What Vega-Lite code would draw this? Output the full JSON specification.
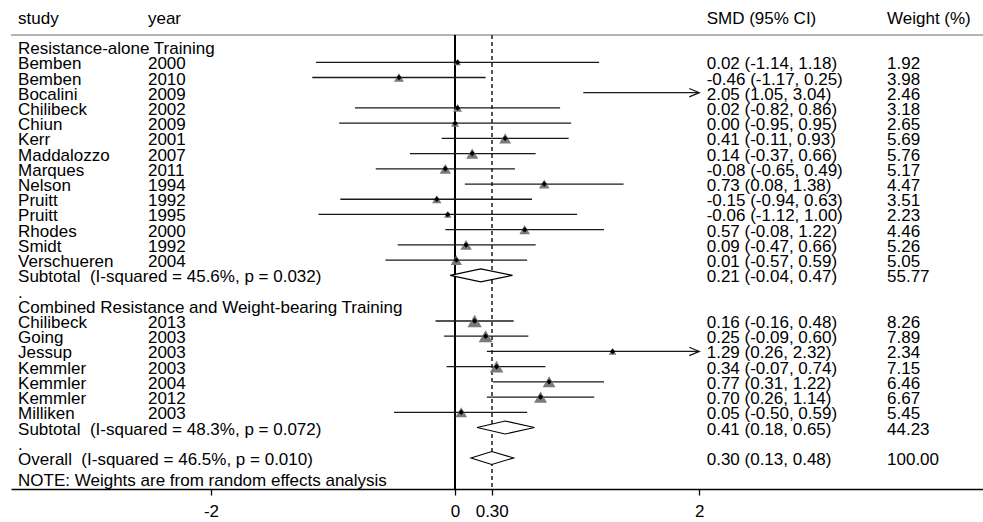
{
  "$schema": "https://vega.github.io/schema/vega-lite/v6.json",
  "width": 973,
  "height": 489,
  "padding": {"left": 10, "top": 0, "right": 0, "bottom": 0},
  "background": "white",
  "config": {
    "view": {"stroke": null},
    "font": "Liberation Sans",
    "text": {"font": "Liberation Sans", "fontSize": 17, "color": "black"},
    "axisX": {
      "grid": false, "domainColor": "black", "domainWidth": 1.4, "tickColor": "black", "tickWidth": 1.3, "tickSize": 6,
      "labelFont": "Liberation Sans", "labelFontSize": 17, "labelColor": "black", "labelPadding": 8
    }
  },
  "data": {
    "values": [
      {"row": 0, "study": "study", "year": "year", "ci": "SMD (95% CI)", "wt": "Weight (%)", "type": "header"},
      {"row": 2, "study": "Resistance-alone Training", "type": "group"},
      {"row": 3, "study": "Bemben", "year": "2000", "ci": "0.02 (-1.14, 1.18)", "wt": "1.92", "est": 0.02, "lo": -1.14, "hi": 1.18, "w": 1.92, "type": "study"},
      {"row": 4, "study": "Bemben", "year": "2010", "ci": "-0.46 (-1.17, 0.25)", "wt": "3.98", "est": -0.46, "lo": -1.17, "hi": 0.25, "w": 3.98, "type": "study"},
      {"row": 5, "study": "Bocalini", "year": "2009", "ci": "2.05 (1.05, 3.04)", "wt": "2.46", "est": 2.05, "lo": 1.05, "hi": 3.04, "w": 2.46, "type": "study"},
      {"row": 6, "study": "Chilibeck", "year": "2002", "ci": "0.02 (-0.82, 0.86)", "wt": "3.18", "est": 0.02, "lo": -0.82, "hi": 0.86, "w": 3.18, "type": "study"},
      {"row": 7, "study": "Chiun", "year": "2009", "ci": "0.00 (-0.95, 0.95)", "wt": "2.65", "est": 0.0, "lo": -0.95, "hi": 0.95, "w": 2.65, "type": "study"},
      {"row": 8, "study": "Kerr", "year": "2001", "ci": "0.41 (-0.11, 0.93)", "wt": "5.69", "est": 0.41, "lo": -0.11, "hi": 0.93, "w": 5.69, "type": "study"},
      {"row": 9, "study": "Maddalozzo", "year": "2007", "ci": "0.14 (-0.37, 0.66)", "wt": "5.76", "est": 0.14, "lo": -0.37, "hi": 0.66, "w": 5.76, "type": "study"},
      {"row": 10, "study": "Marques", "year": "2011", "ci": "-0.08 (-0.65, 0.49)", "wt": "5.17", "est": -0.08, "lo": -0.65, "hi": 0.49, "w": 5.17, "type": "study"},
      {"row": 11, "study": "Nelson", "year": "1994", "ci": "0.73 (0.08, 1.38)", "wt": "4.47", "est": 0.73, "lo": 0.08, "hi": 1.38, "w": 4.47, "type": "study"},
      {"row": 12, "study": "Pruitt", "year": "1992", "ci": "-0.15 (-0.94, 0.63)", "wt": "3.51", "est": -0.15, "lo": -0.94, "hi": 0.63, "w": 3.51, "type": "study"},
      {"row": 13, "study": "Pruitt", "year": "1995", "ci": "-0.06 (-1.12, 1.00)", "wt": "2.23", "est": -0.06, "lo": -1.12, "hi": 1.0, "w": 2.23, "type": "study"},
      {"row": 14, "study": "Rhodes", "year": "2000", "ci": "0.57 (-0.08, 1.22)", "wt": "4.46", "est": 0.57, "lo": -0.08, "hi": 1.22, "w": 4.46, "type": "study"},
      {"row": 15, "study": "Smidt", "year": "1992", "ci": "0.09 (-0.47, 0.66)", "wt": "5.26", "est": 0.09, "lo": -0.47, "hi": 0.66, "w": 5.26, "type": "study"},
      {"row": 16, "study": "Verschueren", "year": "2004", "ci": "0.01 (-0.57, 0.59)", "wt": "5.05", "est": 0.01, "lo": -0.57, "hi": 0.59, "w": 5.05, "type": "study"},
      {"row": 17, "study": "Subtotal\u00a0 (I-squared = 45.6%, p = 0.032)", "ci": "0.21 (-0.04, 0.47)", "wt": "55.77", "est": 0.21, "lo": -0.04, "hi": 0.47, "type": "pooled", "label": "sub1"},
      {"row": 18, "study": ".", "type": "blank"},
      {"row": 19, "study": "Combined Resistance and Weight-bearing Training", "type": "group"},
      {"row": 20, "study": "Chilibeck", "year": "2013", "ci": "0.16 (-0.16, 0.48)", "wt": "8.26", "est": 0.16, "lo": -0.16, "hi": 0.48, "w": 8.26, "type": "study"},
      {"row": 21, "study": "Going", "year": "2003", "ci": "0.25 (-0.09, 0.60)", "wt": "7.89", "est": 0.25, "lo": -0.09, "hi": 0.6, "w": 7.89, "type": "study"},
      {"row": 22, "study": "Jessup", "year": "2003", "ci": "1.29 (0.26, 2.32)", "wt": "2.34", "est": 1.29, "lo": 0.26, "hi": 2.32, "w": 2.34, "type": "study"},
      {"row": 23, "study": "Kemmler", "year": "2003", "ci": "0.34 (-0.07, 0.74)", "wt": "7.15", "est": 0.34, "lo": -0.07, "hi": 0.74, "w": 7.15, "type": "study"},
      {"row": 24, "study": "Kemmler", "year": "2004", "ci": "0.77 (0.31, 1.22)", "wt": "6.46", "est": 0.77, "lo": 0.31, "hi": 1.22, "w": 6.46, "type": "study"},
      {"row": 25, "study": "Kemmler", "year": "2012", "ci": "0.70 (0.26, 1.14)", "wt": "6.67", "est": 0.7, "lo": 0.26, "hi": 1.14, "w": 6.67, "type": "study"},
      {"row": 26, "study": "Milliken", "year": "2003", "ci": "0.05 (-0.50, 0.59)", "wt": "5.45", "est": 0.05, "lo": -0.5, "hi": 0.59, "w": 5.45, "type": "study"},
      {"row": 27, "study": "Subtotal\u00a0 (I-squared = 48.3%, p = 0.072)", "ci": "0.41 (0.18, 0.65)", "wt": "44.23", "est": 0.41, "lo": 0.18, "hi": 0.65, "type": "pooled", "label": "sub2"},
      {"row": 28, "study": ".", "type": "blank"},
      {"row": 29, "study": "Overall\u00a0 (I-squared = 46.5%, p = 0.010)", "ci": "0.30 (0.13, 0.48)", "wt": "100.00", "est": 0.3, "lo": 0.13, "hi": 0.48, "type": "pooled", "label": "overall"},
      {"row": 30.4, "study": "NOTE: Weights are from random effects analysis", "type": "note"}
    ]
  },
  "layer": [
    {
      "mark": {"type": "rule", "color": "#b5b5b5", "strokeWidth": 1.5},
      "encoding": {
        "y": {"datum": 1.2, "type": "quantitative", "scale": {"domain": [-1.093, 31.04], "reverse": true, "nice": false, "zero": false}, "axis": null}
      }
    },
    {
      "mark": {"type": "rule", "color": "black", "strokeWidth": 1.3},
      "encoding": {
        "x": {"datum": 0, "type": "quantitative", "scale": {"domain": [-3.6378, 4.3324], "nice": false, "zero": false},
              "axis": {"title": null, "values": [-2, 0, 0.3, 2], "labelExpr": "datum.value === 0.3 ? '0.30' : '' + datum.value"}},
        "y": {"datum": 1.2, "type": "quantitative", "axis": null},
        "y2": {"datum": 31.04}
      }
    },
    {
      "mark": {"type": "rule", "color": "#555555", "strokeWidth": 1.2, "strokeDash": [4, 3]},
      "encoding": {
        "x": {"datum": 0.3, "type": "quantitative", "axis": {"title": null, "values": [-2, 0, 0.3, 2], "labelExpr": "datum.value === 0.3 ? '0.30' : '' + datum.value"}},
        "y": {"datum": 1.2, "type": "quantitative", "axis": null},
        "y2": {"datum": 31.04}
      }
    },
    {
      "transform": [{"filter": "datum.type === 'study' && datum.hi <= 2"}],
      "mark": {"type": "rule", "color": "#1a1a1a", "strokeWidth": 1.3},
      "encoding": {
        "x": {"field": "lo", "type": "quantitative", "axis": {"title": null, "values": [-2, 0, 0.3, 2], "labelExpr": "datum.value === 0.3 ? '0.30' : '' + datum.value"}},
        "x2": {"field": "hi"},
        "y": {"field": "row", "type": "quantitative", "axis": null}
      }
    },
    {
      "transform": [{"filter": "datum.type === 'study' && datum.hi > 2"}],
      "mark": {"type": "rule", "color": "#1a1a1a", "strokeWidth": 1.3},
      "encoding": {
        "x": {"field": "lo", "type": "quantitative", "axis": {"title": null, "values": [-2, 0, 0.3, 2], "labelExpr": "datum.value === 0.3 ? '0.30' : '' + datum.value"}},
        "x2": {"datum": 2},
        "y": {"field": "row", "type": "quantitative", "axis": null}
      }
    },
    {
      "transform": [{"filter": "datum.type === 'study' && datum.hi > 2"}],
      "mark": {"type": "point", "shape": "M-1,-0.42L0,0L-1,0.42", "filled": false, "color": "#1a1a1a", "strokeWidth": 1.3, "size": 400, "opacity": 1},
      "encoding": {
        "x": {"datum": 2, "type": "quantitative", "axis": {"title": null, "values": [-2, 0, 0.3, 2], "labelExpr": "datum.value === 0.3 ? '0.30' : '' + datum.value"}},
        "y": {"field": "row", "type": "quantitative", "axis": null}
      }
    },
    {
      "transform": [{"filter": "datum.type === 'study' && datum.est <= 2"}],
      "mark": {"type": "point", "shape": "triangle-up", "filled": true, "color": "#7a7a7a", "opacity": 1},
      "encoding": {
        "x": {"field": "est", "type": "quantitative", "axis": {"title": null, "values": [-2, 0, 0.3, 2], "labelExpr": "datum.value === 0.3 ? '0.30' : '' + datum.value"}},
        "y": {"field": "row", "type": "quantitative", "axis": null},
        "size": {"field": "w", "type": "quantitative", "scale": {"domain": [0, 10], "range": [0, 250]}, "legend": null}
      }
    },
    {
      "transform": [{"filter": "datum.type === 'study' && datum.est <= 2"}],
      "mark": {"type": "point", "shape": "diamond", "filled": true, "color": "black", "size": 30, "opacity": 1},
      "encoding": {
        "x": {"field": "est", "type": "quantitative", "axis": {"title": null, "values": [-2, 0, 0.3, 2], "labelExpr": "datum.value === 0.3 ? '0.30' : '' + datum.value"}},
        "y": {"field": "row", "type": "quantitative", "axis": null}
      }
    },
    {
      "transform": [
        {"filter": "datum.type === 'pooled'"},
        {"fold": ["lo", "est", "hi"], "as": ["key", "value"]}
      ],
      "mark": {
        "type": "area", "fill": "white", "stroke": "black", "strokeWidth": 1.1, "opacity": 1,
        "yOffset": {"expr": "datum.key === 'est' ? -6.5 : 0"},
        "y2Offset": {"expr": "datum.key === 'est' ? 6.5 : 0"}
      },
      "encoding": {
        "x": {"field": "value", "type": "quantitative", "axis": {"title": null, "values": [-2, 0, 0.3, 2], "labelExpr": "datum.value === 0.3 ? '0.30' : '' + datum.value"}},
        "y": {"field": "row", "type": "quantitative", "axis": null},
        "y2": {"field": "row"},
        "detail": {"field": "label", "type": "nominal"}
      }
    },
    {
      "transform": [{"filter": "isValid(datum.study)"}],
      "mark": {"type": "text", "align": "left", "baseline": "middle", "dy": 2},
      "encoding": {
        "x": {"datum": -3.58, "type": "quantitative", "axis": {"title": null, "values": [-2, 0, 0.3, 2], "labelExpr": "datum.value === 0.3 ? '0.30' : '' + datum.value"}},
        "y": {"field": "row", "type": "quantitative", "axis": null},
        "text": {"field": "study"}
      }
    },
    {
      "transform": [{"filter": "isValid(datum.year)"}],
      "mark": {"type": "text", "align": "left", "baseline": "middle", "dy": 2},
      "encoding": {
        "x": {"datum": -2.516, "type": "quantitative", "axis": {"title": null, "values": [-2, 0, 0.3, 2], "labelExpr": "datum.value === 0.3 ? '0.30' : '' + datum.value"}},
        "y": {"field": "row", "type": "quantitative", "axis": null},
        "text": {"field": "year"}
      }
    },
    {
      "transform": [{"filter": "isValid(datum.ci)"}],
      "mark": {"type": "text", "align": "left", "baseline": "middle", "dy": 2},
      "encoding": {
        "x": {"datum": 2.061, "type": "quantitative", "axis": {"title": null, "values": [-2, 0, 0.3, 2], "labelExpr": "datum.value === 0.3 ? '0.30' : '' + datum.value"}},
        "y": {"field": "row", "type": "quantitative", "axis": null},
        "text": {"field": "ci"}
      }
    },
    {
      "transform": [{"filter": "isValid(datum.wt)"}],
      "mark": {"type": "text", "align": "left", "baseline": "middle", "dy": 2},
      "encoding": {
        "x": {"datum": 3.538, "type": "quantitative", "axis": {"title": null, "values": [-2, 0, 0.3, 2], "labelExpr": "datum.value === 0.3 ? '0.30' : '' + datum.value"}},
        "y": {"field": "row", "type": "quantitative", "axis": null},
        "text": {"field": "wt"}
      }
    }
  ]
}
